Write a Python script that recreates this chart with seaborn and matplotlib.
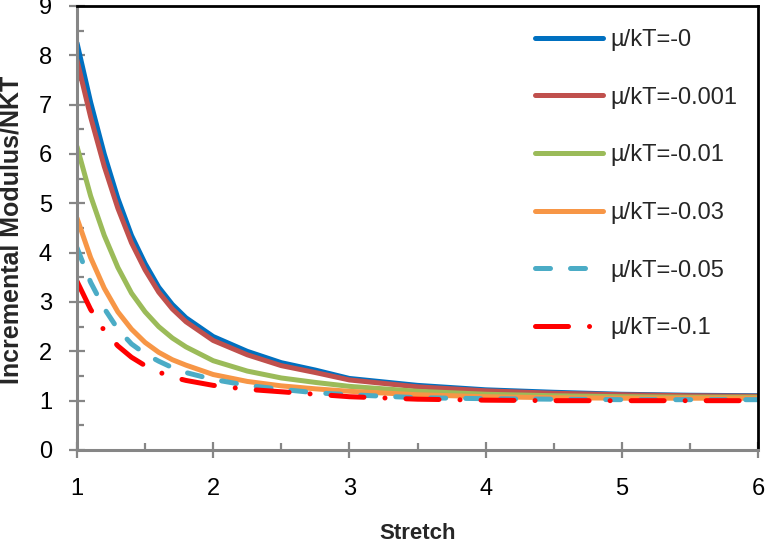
import matplotlib
matplotlib.use("Agg")
import matplotlib.pyplot as plt
from matplotlib.ticker import MultipleLocator
import seaborn as sns
import pandas as pd

# ---- data ----
stretch = [1.0, 1.1, 1.2, 1.3, 1.4, 1.5, 1.6, 1.7, 1.8, 2.0, 2.25, 2.5, 2.75,
           3.0, 3.5, 4.0, 4.5, 5.0, 5.5, 6.0]
mod_0 = [8.25, 7.05, 6.00, 5.10, 4.35, 3.78, 3.30, 2.95, 2.68, 2.30, 2.00, 1.77,
         1.62, 1.45, 1.31, 1.22, 1.17, 1.13, 1.11, 1.10]
mod_0001 = [7.90, 6.75, 5.75, 4.90, 4.20, 3.65, 3.20, 2.86, 2.60, 2.22, 1.93, 1.71,
            1.57, 1.42, 1.28, 1.20, 1.15, 1.12, 1.10, 1.09]
mod_001 = [6.15, 5.15, 4.35, 3.70, 3.18, 2.80, 2.50, 2.27, 2.09, 1.81, 1.60, 1.46,
           1.37, 1.29, 1.19, 1.13, 1.10, 1.08, 1.07, 1.07]
mod_003 = [4.70, 3.90, 3.28, 2.80, 2.45, 2.18, 1.98, 1.83, 1.72, 1.53, 1.39, 1.30,
           1.24, 1.19, 1.12, 1.08, 1.06, 1.05, 1.05, 1.05]
mod_005 = [4.10, 3.40, 2.87, 2.45, 2.15, 1.95, 1.80, 1.67, 1.57, 1.43, 1.31, 1.23,
           1.16, 1.12, 1.06, 1.04, 1.03, 1.02, 1.02, 1.02]
mod_01 = [3.42, 2.85, 2.42, 2.11, 1.88, 1.71, 1.58, 1.48, 1.41, 1.31, 1.23, 1.18,
          1.13, 1.08, 1.03, 1.01, 1.00, 1.00, 1.00, 1.00]

labels = ["µ/kT=-0", "µ/kT=-0.001", "µ/kT=-0.01", "µ/kT=-0.03",
          "µ/kT=-0.05", "µ/kT=-0.1"]
series = [mod_0, mod_0001, mod_001, mod_003, mod_005, mod_01]
colors = ["#0070C0", "#C0504D", "#9BBB59", "#F79646", "#4BACC6", "#FF0000"]
dash_patterns = [None, None, None, None, (3.0, 4.0), (6.6, 4.2, 0.01, 4.2)]

x_ticks = [1, 2, 3, 4, 5, 6]
y_ticks = [0, 1, 2, 3, 4, 5, 6, 7, 8, 9]

rows = []
for lab, vals in zip(labels, series):
    for xv, yv in zip(stretch, vals):
        rows.append({"Stretch": xv, "Modulus": yv, "series": lab})
df = pd.DataFrame(rows)

sns.set_theme(style="white")
plt.rcParams["font.family"] = ["Liberation Sans", "DejaVu Sans"]

fig = plt.figure(figsize=(7.68, 5.46), dpi=100)
ax = fig.add_axes([77 / 768, (546 - 450) / 546, (758 - 77) / 768, (450 - 6) / 546])

LW = 3.6
for lab, col, dp in zip(labels, colors, dash_patterns):
    sub = df[df["series"] == lab]
    sns.lineplot(data=sub, x="Stretch", y="Modulus", color=col, linewidth=LW,
                 ax=ax, label=lab, estimator=None, sort=False)
    ln = ax.lines[-1]
    ln.set_solid_capstyle("round")
    ln.set_solid_joinstyle("round")
    ln.set_dash_capstyle("round")
    if dp is not None:
        ln.set_dashes(dp)

ax.set_xlim(1, 6)
ax.set_ylim(0, 9)
ax.set_xticks(x_ticks)
ax.set_yticks(y_ticks)
ax.xaxis.set_minor_locator(MultipleLocator(0.5))
ax.yaxis.set_minor_locator(MultipleLocator(0.5))

gray = "#868686"
for s in ["left", "bottom"]:
    ax.spines[s].set_color(gray)
    ax.spines[s].set_linewidth(2.2)
for s in ["top", "right"]:
    ax.spines[s].set_color("black")
    ax.spines[s].set_linewidth(2.0)

ax.tick_params(axis="both", which="major", direction="inout", length=12,
               width=1.6, color=gray, labelsize=17, labelcolor="black")
ax.tick_params(axis="both", which="minor", direction="in", length=5,
               width=1.6, color=gray)
ax.tick_params(axis="x", which="major", pad=14, bottom=True)
ax.tick_params(axis="y", which="major", pad=12, left=True)
ax.tick_params(axis="both", which="minor", bottom=True, left=True)

ax.set_xlabel("Stretch", fontsize=16, fontweight="bold")
ax.set_ylabel("Incremental Modulus/NKT", fontsize=18, fontweight="bold")
ax.xaxis.set_label_coords(0.5, -0.165)
ax.yaxis.set_label_coords(-0.078, 0.495)

leg = ax.legend(loc="upper left", bbox_to_anchor=(0.6725, 0.948),
                frameon=False, borderpad=0, borderaxespad=0,
                handlelength=2.9, handletextpad=0.3, labelspacing=1.51,
                prop={"family": ["Liberation Sans", "DejaVu Sans"], "size": 17})

fig.savefig("out.png", dpi=100)
